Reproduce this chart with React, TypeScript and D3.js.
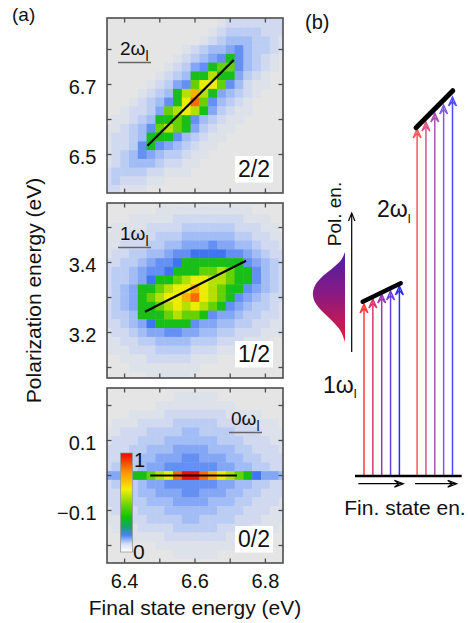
import React from 'react';
import * as d3 from 'd3';

// ---------- data (a) ----------
const xCenters = [6.35, 6.375, 6.4, 6.425, 6.45, 6.475, 6.5, 6.525, 6.55, 6.575, 6.6, 6.625, 6.65, 6.675, 6.7, 6.725, 6.75, 6.775, 6.8, 6.825, 6.85];
const topYCenters = [6.875, 6.85, 6.825, 6.8, 6.775, 6.75, 6.725, 6.7, 6.675, 6.65, 6.625, 6.6, 6.575, 6.55, 6.525, 6.5, 6.475, 6.45, 6.425, 6.4];
const midYCenters = [3.575, 3.55, 3.525, 3.5, 3.475, 3.45, 3.425, 3.4, 3.375, 3.35, 3.325, 3.3, 3.275, 3.25, 3.225, 3.2, 3.175, 3.15, 3.125, 3.1, 3.075];
const botYCenters = [0.25, 0.225, 0.2, 0.175, 0.15, 0.125, 0.1, 0.075, 0.05, 0.025, 0, -0.025, -0.05, -0.075, -0.1, -0.125, -0.15, -0.175, -0.2, -0.225, -0.25];

// intensity levels: . 1-7 (blues), g h y Y o O r
const topRows = [
  '.............12222222',
  '............123333222',
  '...........1234443321',
  '.........123445643321',
  '........123456g64321.',
  '.......12356ghh64321.',
  '......1234ggygg5321..',
  '.....12356hYYh64211..',
  '....1234gyoyg54321...',
  '...12346gYOh64321....',
  '..12235hyYyg53211....',
  '.11234gghg643211.....',
  '112346hyhg53211......',
  '12234ggg643211.......',
  '12236g6543211........',
  '123465433211.........',
  '12344432211..........',
  '2333322111...........',
  '2322211..............',
  '22111................',
];
const midRows = [
  '.....................',
  '......11111111111....',
  '...1111122222222111..',
  '.1111222233333322211.',
  '111222333444444332211',
  '112223344555655443221',
  '122334456677776654322',
  '223345667ggggggg65432',
  '23345667ggghhyhgg6432',
  '233457gghyYYyyhgg6432',
  '2345gghyYYoYyhgg65432',
  '2345ghyYYoOYyhg654322',
  '2345gghyYyYyhg6543321',
  '2334ggghyhhg655433221',
  '223457gggg65544332211',
  '122345566554433222111',
  '1122334444333222111..',
  '1112223333222111.....',
  '..11122222111........',
  '...11111111..........',
  '.....11111...........',
];
const botRows = [
  '.....................',
  '........11111........',
  '......111111111......',
  '...111122222221111...',
  '.1112222333332222111.',
  '112223333443333222111',
  '122233344444433322211',
  '222334445555444332221',
  '223344555665554433222',
  '233345566666655443322',
  '556gghyYOrrOoYyhg7554',
  '233345566666655443322',
  '223344555665554433222',
  '222334445555444332221',
  '122233344444433322211',
  '112223333443333222111',
  '.1112222333332222111.',
  '...111122222221111...',
  '......111111111......',
  '........11111........',
  '.....................',
];

const xDomain = [6.35, 6.85];
const topYDomain = [6.39, 6.89];
const midYDomain = [3.07, 3.57];
const botYDomain = [-0.25, 0.25];
const xTicks = [6.4, 6.5, 6.6, 6.7, 6.8];
const xTickLabels = [6.4, 6.6, 6.8];
const topYTicks = [6.5, 6.6, 6.7, 6.8];
const topYTickLabels = [6.5, 6.7];
const midYTicks = [3.1, 3.2, 3.3, 3.4, 3.5];
const midYTickLabels = [3.2, 3.4];
const botYTicks = [-0.2, -0.1, 0, 0.1, 0.2];
const botYTickLabels = [-0.1, 0.1];
const topLineX = [6.465, 6.71];
const topLineY = [6.525, 6.77];
const midLineX = [6.458, 6.745];
const midLineY = [3.259, 3.405];
const botLineX = [6.473, 6.719];
const botLineY = [0, 0];
const panelOrders = ['2', '1', '0'];
const panelFracs = ['2/2', '1/2', '0/2'];

// ---------- data (b) ----------
const finalStates1 = [0, 1, 2, 3, 4];
const finalStates2 = [6, 7, 8, 9, 10];
const tipEnergy1 = [172, 177, 182, 185, 190];
const tipEnergy2 = [347, 354, 363, 371, 379];
const bar1Fs = [-0.15, 4.15];
const bar1E = [174.3, 192.7];
const bar2Fs = [5.88, 10.03];
const bar2E = [348.3, 385.3];
const baselineFs = [-1.02, 11.04];
const fsArrowFrom = [-0.64, 5.76];
const fsArrowTo = [4.45, 10.47];
const polAxisE = [124, 263];
const gaussE = [224, 216, 208, 200, 192, 184, 176, 168, 160, 152, 144, 134];
const gaussAmp = [0, 0.12, 0.38, 0.69, 0.91, 1, 0.97, 0.81, 0.56, 0.31, 0.12, 0];

const arrowColors = ['#ff3a3a', '#d8366a', '#9b36a8', '#6a40e4', '#2c2cff'];
const levelColors: Record<string, string> = {
  '1': '#dde1ea', '2': '#d0d9ef', '3': '#bccdf3', '4': '#a2bcf5', '5': '#84a7f5',
  '6': '#6490f4', '7': '#3f76f0', g: '#18bf18', h: '#66d000', y: '#b4e000',
  Y: '#ecec00', o: '#ffae00', O: '#ff6a00', r: '#f21000',
};
const colorbarStops: [number, string][] = [
  [0, '#ffffff'], [0.08, '#d6e0f8'], [0.17, '#4a82f2'], [0.25, '#1aa070'],
  [0.35, '#10c010'], [0.5, '#80d800'], [0.63, '#f0f000'], [0.8, '#ff9800'], [1, '#f00000'],
];

const FONT = '"Liberation Sans", Arial, Helvetica, sans-serif';
const fmt = (v: number) => d3.format('.1f')(v).replace('-', '\u2013');

export default function App() {
  const W = 468, H = 623;
  const left = 107, pw = 176, ph = 175;
  const tops = [18, 203, 388];
  const cell = 0.025;
  const x = d3.scaleLinear().domain(xDomain).range([left, left + pw]);
  const panels = [
    { yDomain: topYDomain, yc: topYCenters, rows: topRows, ticks: topYTicks, labels: topYTickLabels, lx: topLineX, ly: topLineY, tagRight: false },
    { yDomain: midYDomain, yc: midYCenters, rows: midRows, ticks: midYTicks, labels: midYTickLabels, lx: midLineX, ly: midLineY, tagRight: false },
    { yDomain: botYDomain, yc: botYCenters, rows: botRows, ticks: botYTicks, labels: botYTickLabels, lx: botLineX, ly: botLineY, tagRight: true },
  ];

  const xB = d3.scaleLinear().domain([0, 10]).range([364, 452.5]);
  const yB = d3.scaleLinear().domain([0, 400]).range([476, 76]);
  const gx = d3.scaleLinear().domain([0, 1]).range([345, 313]);
  const gaussPath = d3.area<number>()
    .y((i) => yB(gaussE[i]))
    .x0(gx(0))
    .x1((i) => gx(gaussAmp[i]))
    .curve(d3.curveCatmullRom)(gaussE.map((_, i) => i)) || '';

  const head = (cx: number, ty: number) =>
    `M${cx - 4},${ty + 9}L${cx},${ty}L${cx + 4},${ty + 9}M${cx - 4},${ty + 9}L${cx},${ty + 4.5}L${cx + 4},${ty + 9}`;
  const headR = (tx: number, cy: number) =>
    `M${tx - 9},${cy - 3.5}L${tx},${cy}L${tx - 9},${cy + 3.5}M${tx - 9},${cy - 3.5}L${tx - 4.5},${cy}L${tx - 9},${cy + 3.5}`;

  const arrowSet = (fs: number[], tips: number[], key: string, op: number) =>
    fs.map((f, k) => {
      const cx = xB(f);
      const ty = yB(tips[k]);
      return (
        <g key={key + k} stroke={arrowColors[k]} strokeWidth={1.5} fill="none" opacity={op}>
          <line x1={cx} x2={cx} y1={yB(0)} y2={ty + 1} />
          <path d={head(cx, ty)} strokeWidth={1.4} strokeLinejoin="miter" />
        </g>
      );
    });

  return (
    <svg width={W} height={H} style={{ position: 'absolute', left: 0, top: 0, background: '#fff' }} fontFamily={FONT}>
      <defs>
        {tops.map((t, p) => (
          <clipPath id={`clip${p}`} key={p}>
            <rect x={left} y={t} width={pw} height={ph} />
          </clipPath>
        ))}
        <linearGradient id="cbar" x1="0" y1="1" x2="0" y2="0">
          {colorbarStops.map(([o, c]) => <stop key={o} offset={o} stopColor={c} />)}
        </linearGradient>
        <linearGradient id="gauss" gradientUnits="userSpaceOnUse" x1="0" y1={yB(gaussE[0])} x2="0" y2={yB(gaussE[gaussE.length - 1])}>
          <stop offset="0" stopColor="#4a1ea8" />
          <stop offset="0.5" stopColor="#8e1a7e" />
          <stop offset="1" stopColor="#e8183a" />
        </linearGradient>
      </defs>

      <text x={12} y={21} fontSize={19} fill="#111">(a)</text>
      <text x={305} y={29} fontSize={20} fill="#111">(b)</text>

      {panels.map((pn, p) => {
        const top = tops[p];
        const bottom = top + ph;
        const y = d3.scaleLinear().domain(pn.yDomain).range([bottom, top]);
        const tagX = pn.tagRight ? 231 : 120;
        return (
          <g key={p}>
            <rect x={left} y={top} width={pw} height={ph} fill="#e5e5e5" />
            <g clipPath={`url(#clip${p})`}>
              {pn.rows.map((row, r) =>
                row.split('').map((ch, c) => {
                  if (ch === '.' || !levelColors[ch] || c >= xCenters.length) return null;
                  const x0 = x(xCenters[c] - cell / 2);
                  const x1 = x(xCenters[c] + cell / 2);
                  const y0 = y(pn.yc[r] + cell / 2);
                  const y1 = y(pn.yc[r] - cell / 2);
                  return <rect key={`${r}-${c}`} x={x0} y={y0} width={x1 - x0 + 0.4} height={y1 - y0 + 0.4} fill={levelColors[ch]} />;
                })
              )}
              <line x1={x(pn.lx[0])} y1={y(pn.ly[0])} x2={x(pn.lx[1])} y2={y(pn.ly[1])} stroke="#000" strokeWidth={2.2} />
            </g>
            {/* order tag */}
            <text x={tagX} y={top + 37} fontSize={19} fill="#111">
              {panelOrders[p]}ω
              <tspan fontSize={14} dy={6}>l</tspan>
            </text>
            <line x1={tagX - 2} x2={tagX + 31} y1={top + 44.5} y2={top + 44.5} stroke="#666" strokeWidth={1.3} />
            {/* fraction box */}
            <rect x={235} y={bottom - 37} width={38} height={26.5} fill="#fff" />
            <text x={254} y={bottom - 16.3} fontSize={23} textAnchor="middle" fill="#111">{panelFracs[p]}</text>
            {/* frame and ticks */}
            <rect x={left} y={top} width={pw} height={ph} fill="none" stroke="#4d4d4d" strokeWidth={1.6} />
            {xTicks.map((t) => (
              <g key={'xt' + t} stroke="#4d4d4d" strokeWidth={1.3}>
                <line x1={x(t)} x2={x(t)} y1={top} y2={top + 4.5} />
                <line x1={x(t)} x2={x(t)} y1={bottom} y2={bottom - 4.5} />
              </g>
            ))}
            {pn.ticks.map((t) => (
              <g key={'yt' + t} stroke="#4d4d4d" strokeWidth={1.3}>
                <line x1={left} x2={left + 4.5} y1={y(t)} y2={y(t)} />
                <line x1={left + pw} x2={left + pw - 4.5} y1={y(t)} y2={y(t)} />
              </g>
            ))}
            {pn.labels.map((t) => (
              <text key={'yl' + t} x={96.5} y={y(t) + 9} fontSize={20} textAnchor="end" fill="#111">{fmt(t)}</text>
            ))}
          </g>
        );
      })}

      {xTickLabels.map((t) => (
        <text key={'xl' + t} x={x(t)} y={588} fontSize={20} textAnchor="middle" fill="#111">{fmt(t)}</text>
      ))}
      <text x={left + pw / 2} y={615} fontSize={21} textAnchor="middle" fill="#111">Final state energy (eV)</text>
      <text transform={`translate(41,${(tops[0] + tops[2] + ph) / 2}) rotate(-90)`} fontSize={21} textAnchor="middle" fill="#111">
        Polarization energy (eV)
      </text>

      {/* colorbar */}
      <rect x={120.5} y={453} width={12} height={99} fill="url(#cbar)" stroke="#999" strokeWidth={0.8} />
      <text x={134} y={467} fontSize={20} fill="#111">1</text>
      <text x={133} y={559} fontSize={21} fill="#111">0</text>

      {/* (b) schematic */}
      <path d={gaussPath} fill="url(#gauss)" />
      <line x1={351.7} x2={351.7} y1={yB(polAxisE[0])} y2={yB(polAxisE[1]) + 1} stroke="#000" strokeWidth={1.2} />
      <path d={`M${351.7 - 3.2},${yB(polAxisE[1]) + 8}L351.7,${yB(polAxisE[1])}L${351.7 + 3.2},${yB(polAxisE[1]) + 8}`} stroke="#000" strokeWidth={1.2} fill="none" />
      <text transform={`translate(341,214) rotate(-90)`} fontSize={19} textAnchor="middle" fill="#111">Pol. en.</text>

      {arrowSet(finalStates1, tipEnergy1, 'a', 1)}
      {arrowSet(finalStates2, tipEnergy2, 'b', 0.85)}

      <line x1={xB(bar1Fs[0])} y1={yB(bar1E[0])} x2={xB(bar1Fs[1])} y2={yB(bar1E[1])} stroke="#000" strokeWidth={4.5} strokeLinecap="round" />
      <line x1={xB(bar2Fs[0])} y1={yB(bar2E[0])} x2={xB(bar2Fs[1])} y2={yB(bar2E[1])} stroke="#000" strokeWidth={5} strokeLinecap="round" />

      <line x1={xB(baselineFs[0])} x2={xB(baselineFs[1])} y1={yB(0)} y2={yB(0)} stroke="#000" strokeWidth={2.5} />
      {fsArrowFrom.map((f, k) => (
        <g key={'fa' + k} stroke="#000" strokeWidth={1.2} fill="none">
          <line x1={xB(f)} x2={xB(fsArrowTo[k]) - 1} y1={483.7} y2={483.7} />
          <path d={headR(xB(fsArrowTo[k]), 483.7)} />
        </g>
      ))}
      <text x={405} y={515} fontSize={21} textAnchor="middle" fill="#111">Fin. state en.</text>

      <text x={377} y={216.7} fontSize={23} fill="#111">
        2ω<tspan fontSize={13} dy={6}>l</tspan>
      </text>
      <text x={323} y={393.3} fontSize={23} fill="#111">
        1ω<tspan fontSize={13} dy={5}>l</tspan>
      </text>
    </svg>
  );
}
